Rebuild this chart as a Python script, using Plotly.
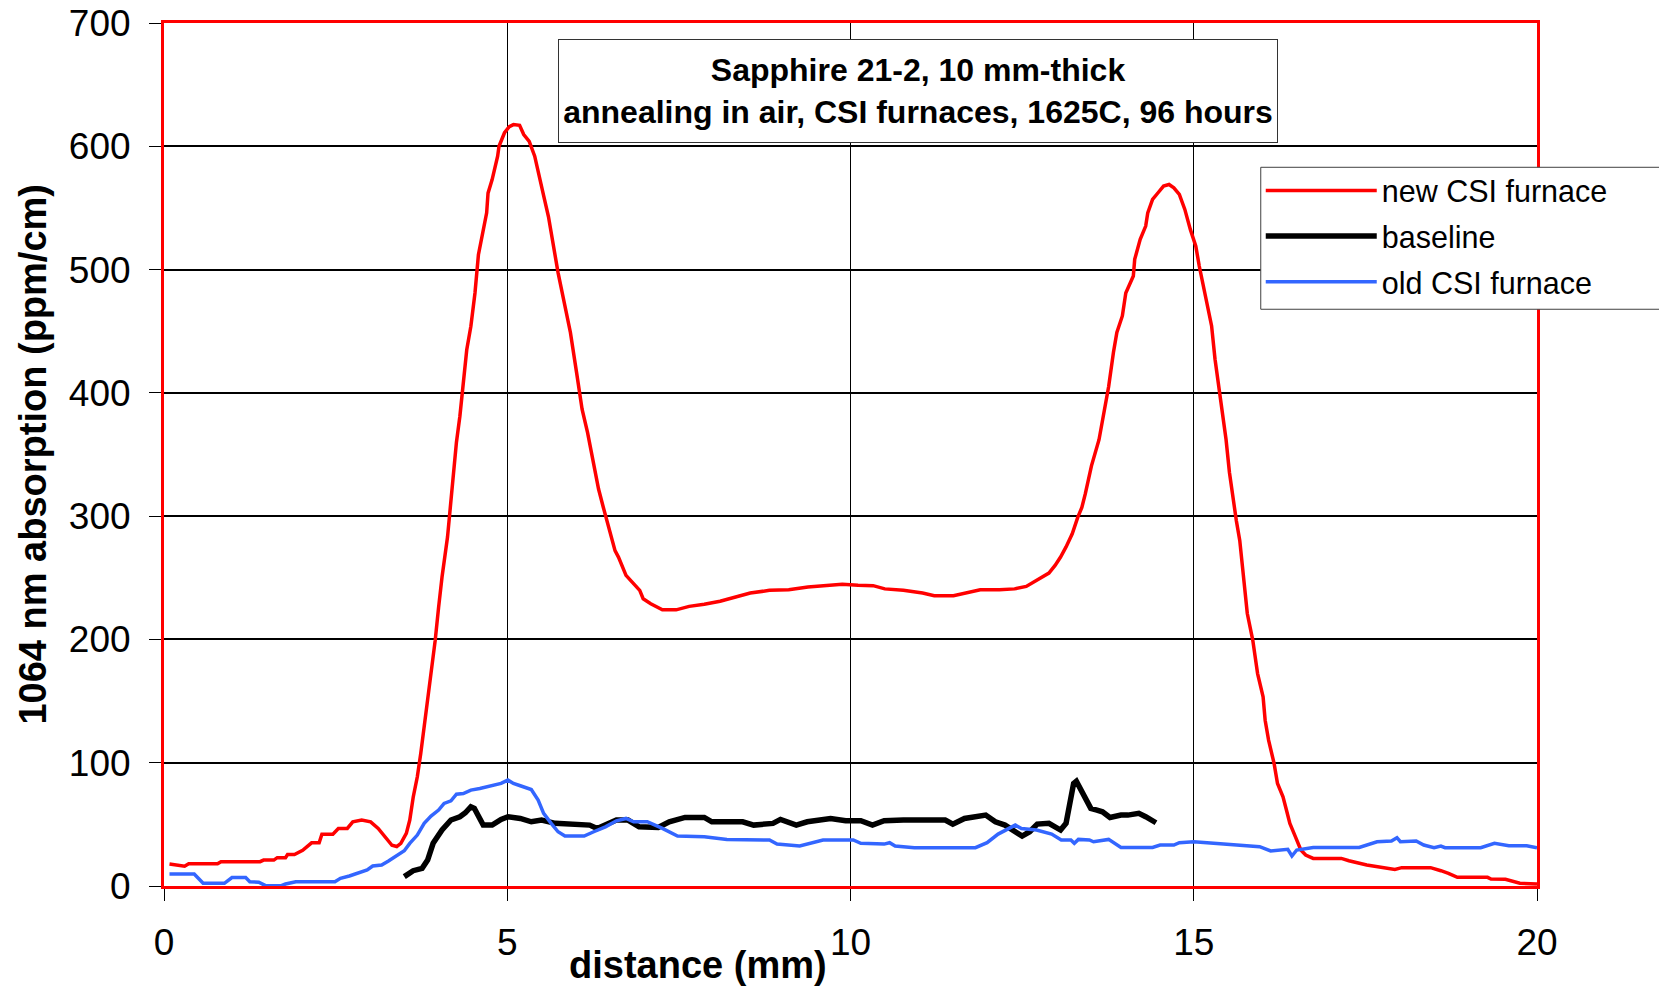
import plotly.graph_objects as go

# ---------------- data ----------------
new_x = [0.08, 0.3, 0.36, 0.78, 0.83, 1.4, 1.45, 1.6, 1.65, 1.77, 1.8, 1.9, 2.02, 2.15, 2.26, 2.3, 2.46,
         2.54, 2.67, 2.75, 2.88, 3.01, 3.12, 3.22, 3.32, 3.39, 3.45, 3.53, 3.58, 3.63, 3.69, 3.74, 3.79,
         3.84, 3.89, 3.95, 4.0, 4.05, 4.13, 4.18, 4.26, 4.31, 4.36, 4.41, 4.47, 4.53, 4.58, 4.65, 4.70,
         4.72, 4.78, 4.86, 4.88, 4.96, 5.03, 5.09, 5.18, 5.24, 5.32, 5.40, 5.47, 5.53, 5.60, 5.66, 5.74,
         5.84, 5.92, 6.01, 6.09, 6.17, 6.26, 6.33, 6.40, 6.45, 6.51, 6.57, 6.62, 6.68, 6.73, 6.82, 6.93,
         6.98, 7.09, 7.26, 7.46, 7.65, 7.87, 8.10, 8.32, 8.54, 8.82, 9.10, 9.38, 9.66, 9.88, 10.11, 10.33,
         10.50, 10.77, 11.05, 11.22, 11.50, 11.72, 11.89, 12.17, 12.39, 12.56, 12.67, 12.78, 12.89, 12.98,
         13.06, 13.14, 13.23, 13.31, 13.37, 13.42, 13.51, 13.62, 13.70, 13.76, 13.83, 13.88, 13.96, 14.01,
         14.12, 14.14, 14.22, 14.30, 14.33, 14.40, 14.48, 14.56, 14.64, 14.71, 14.79, 14.87, 14.95, 15.03,
         15.08, 15.13, 15.18, 15.26, 15.31, 15.36, 15.41, 15.47, 15.52, 15.57, 15.62, 15.67, 15.70, 15.75,
         15.78, 15.86, 15.93, 16.01, 16.04, 16.09, 16.17, 16.22, 16.30, 16.35, 16.40, 16.48, 16.56, 16.63,
         16.74, 17.15, 17.26, 17.52, 17.72, 17.93, 18.03, 18.45, 18.60, 18.71, 18.84, 19.28, 19.33, 19.54,
         19.75, 20.0]
new_y = [17.8, 16, 18, 18, 19.7, 19.7, 21, 21, 23, 23, 25.6, 25.6, 29, 35, 35, 42, 42,
         46.7, 46.7, 52, 53.5, 52, 46.7, 39.4, 33, 32, 34.6, 42.7, 53.5, 72, 88.6, 107.5, 129,
         150.7, 169.6, 199, 226, 250.6, 283, 313, 360, 381, 405, 435, 454, 481, 512, 530, 546,
         562, 573, 592, 600, 611, 616, 617.6, 617, 609.5, 604, 592, 576, 560, 543, 522, 497.5,
         470.5, 449, 416.4, 386.7, 367.8, 340.8, 322, 307, 296.5, 285.7, 272, 266.8, 258.7, 252, 246.5, 239.8,
         233, 229, 224, 224, 226.8, 228.5, 231, 234.4, 237.6, 239.8, 240.3, 242.5, 243.6, 244.7, 243.9, 243.6,
         241, 239.8, 237.6, 235.5, 235.5, 238.5, 240.3, 240.3, 241, 243, 246.5, 250.6, 253.8, 260,
         266.8, 275, 285.7, 299, 307, 318, 340.8, 362, 386.7, 405, 432.7, 449, 462.4, 481,
         494.8, 508.3, 524.5, 535.3, 546, 556.9, 562.3, 567.7, 569, 566.3, 561, 548.8, 532.6, 519,
         502.9, 489.4, 475.9, 454.3, 427.3, 405.6, 389.4, 362.4, 335.4, 313.8, 296.5, 280.3, 264, 234.4,
         221, 199.3, 172.3, 153.4, 134.5, 118.3, 99.4, 83.2, 72.4, 61.6, 50.8, 40, 29.2, 25.1,
         22.4, 22.4, 20.5, 17, 15.1, 13.5, 14.9, 14.9, 12.4, 10.3, 7, 7, 5.7, 5.4,
         2.2, 1.6]

base_x = [3.50, 3.63, 3.76, 3.84, 3.92, 4.05, 4.18, 4.31, 4.39, 4.47, 4.52, 4.60, 4.65, 4.78, 4.91,
          5.01, 5.19, 5.35, 5.50, 5.70, 6.20, 6.31, 6.59, 6.76, 6.92, 7.20, 7.36, 7.59, 7.87, 7.98,
          8.43, 8.59, 8.87, 8.98, 9.21, 9.37, 9.71, 9.93, 10.15, 10.32, 10.49, 10.77, 11.27, 11.38,
          11.49, 11.66, 11.97, 12.11, 12.25, 12.39, 12.50, 12.61, 12.72, 12.89, 13.06, 13.14, 13.20,
          13.25, 13.29, 13.36, 13.42, 13.50, 13.59, 13.67, 13.78, 13.94, 14.04, 14.20, 14.30, 14.45]
base_y = [7.6, 12.4, 14.3, 21, 34.6, 45.4, 53.5, 56.2, 59.4, 64.3, 63, 53.5, 49.4, 49.4, 54,
          56.2, 54.8, 52.1, 53.5, 50.8, 49.4, 46.7, 53.5, 53.5, 48, 47.5, 52.1, 55.6, 55.6, 52.1,
          52.1, 49.4, 50.8, 54, 49.4, 52.1, 54.8, 52.9, 52.9, 49.4, 52.9, 53.5, 52.9, 53.5,
          50.2, 54.8, 57.5, 52.1, 49.4, 44, 40.5, 44, 50.2, 50.8, 45.4, 50.8, 69.7,
          83.2, 85, 77.8, 71, 63, 61.6, 60.2, 55.6, 57.5, 57.5, 58.9, 56.2, 51.3]

old_x = [0.08, 0.44, 0.57, 0.88, 0.99, 1.19, 1.25, 1.38, 1.48, 1.71, 1.77, 1.92, 2.49, 2.57, 2.70,
         2.86, 2.96, 3.04, 3.17, 3.27, 3.40, 3.50, 3.58, 3.69, 3.79, 3.89, 4.0, 4.08, 4.18, 4.26, 4.36,
         4.47, 4.60, 4.78, 4.91, 5.01, 5.09, 5.19, 5.35, 5.45, 5.53, 5.64, 5.74, 5.84, 6.12, 6.26,
         6.43, 6.59, 6.73, 6.84, 7.04, 7.26, 7.48, 7.87, 8.20, 8.82, 8.93, 9.26, 9.43, 9.60, 10.04,
         10.15, 10.49, 10.57, 10.65, 10.93, 11.82, 11.99, 12.15, 12.32, 12.40, 12.49, 12.71, 12.93,
         13.07, 13.21, 13.26, 13.32, 13.48, 13.54, 13.76, 13.94, 14.40, 14.51, 14.71, 14.79, 15.0,
         15.29, 15.70, 15.96, 16.12, 16.32, 16.37, 16.43, 16.50, 16.74, 17.41, 17.67, 17.88, 17.96,
         18.01, 18.24, 18.35, 18.50, 18.60, 18.66, 19.18, 19.38, 19.59, 19.85, 20.0]
old_y = [9.7, 9.7, 2.2, 2.2, 6.8, 6.8, 3.5, 3, 0.3, 0.3, 1.6, 3.5, 3.5, 6.2, 8.1,
         10.8, 13, 16.2, 17, 20.3, 25.1, 28.6, 34.6, 41.3, 50.8, 56.7, 61.6, 67, 69.1, 74.5, 75,
         77.8, 79.1, 81.8, 83.2, 85.9, 83.2, 81.3, 78.3, 69.7, 58.9, 50.8, 44, 40.5, 40.5, 44,
         48, 52.9, 54.8, 52.1, 52.1, 46.7, 40.5, 40, 37.8, 37.3, 34, 32.4, 35.1, 37.3, 37.3,
         34.6, 34, 35.1, 32.4, 31.1, 31.1, 35.1, 42.1, 46.7, 49.4, 46.7, 45.4, 42.1,
         37.3, 37.3, 34.6, 37.8, 37.3, 35.9, 37.8, 31.3, 31.3, 33.2, 33.2, 35.1, 35.9,
         34.6, 32.7, 31.9, 28.4, 29.2, 29.7, 24.3, 29.2, 31.3, 31.3, 35.9, 36.5, 39.2,
         35.9, 36.5, 33.2, 31.1, 32.4, 31.1, 31.1, 34.6, 32.7, 32.7, 31.1]

series_names = ["new CSI furnace", "baseline", "old CSI furnace"]
x_ticks = [0, 5, 10, 15, 20]
y_ticks = [0, 100, 200, 300, 400, 500, 600, 700]

title_text = "Sapphire 21-2, 10 mm-thick<br>annealing in air, CSI furnaces, 1625C, 96 hours"
x_title = "distance (mm)"
y_title = "1064 nm absorption (ppm/cm)"

FONT = "Liberation Sans, Arial, sans-serif"

fig = go.Figure()
fig.add_trace(go.Scatter(x=new_x, y=new_y, mode="lines", name=series_names[0],
                         line=dict(color="#FF0000", width=3.5), legendgroup="g1"))
fig.add_trace(go.Scatter(x=base_x, y=base_y, mode="lines", name=series_names[1],
                         line=dict(color="#000000", width=5.5), legendgroup="g2"))
fig.add_trace(go.Scatter(x=old_x, y=old_y, mode="lines", name=series_names[2],
                         line=dict(color="#3366FF", width=3.5), legendgroup="g3"))

fig.update_layout(
    width=1659, height=986,
    margin=dict(l=164, r=122, t=23, b=100, autoexpand=False),
    paper_bgcolor="white", plot_bgcolor="white",
    font=dict(family=FONT, color="black"),
    showlegend=True,
    legend=dict(x=0.7988, y=0.8365, xanchor="left", yanchor="top",
                bgcolor="rgba(0,0,0,0)", borderwidth=0,
                font=dict(size=30.5, family=FONT, color="black"),
                tracegroupgap=3, itemwidth=111, traceorder="grouped"),
    # frame of the legend box (runs off the right edge, as in the original)
    shapes=[dict(type="rect", xref="paper", yref="paper", layer="above",
                 x0=0.7988, x1=1.25, y0=0.6683, y1=0.8328,
                 line=dict(color="#404040", width=1), fillcolor="white")],
    xaxis=dict(range=[0, 20], tickvals=x_ticks, ticktext=[str(v) for v in x_ticks],
               showgrid=True, gridcolor="black", gridwidth=1, zeroline=False,
               showline=True, linecolor="#FF0000", linewidth=3, mirror=True,
               ticks="outside", ticklen=12, tickwidth=1.3, tickcolor="black",
               ticklabelstandoff=10,
               tickfont=dict(size=37, family=FONT, color="black")),
    yaxis=dict(range=[0, 700], tickvals=y_ticks, ticktext=[str(v) for v in y_ticks],
               showgrid=True, gridcolor="black", gridwidth=2, zeroline=False,
               showline=True, linecolor="#FF0000", linewidth=3, mirror=True,
               ticks="outside", ticklen=12, tickwidth=1.3, tickcolor="black",
               ticklabelstandoff=11,
               tickfont=dict(size=37, family=FONT, color="black")),
    annotations=[
        dict(text="<b>" + title_text + "</b>", xref="paper", yref="paper",
             x=0.549, y=0.9212, xanchor="center", yanchor="middle", showarrow=False,
             font=dict(size=32, family=FONT, color="black"), align="center",
             bordercolor="#333333", borderwidth=1, borderpad=2, bgcolor="white",
             width=714, height=98),
        dict(text="<b>" + x_title + "</b>", xref="paper", yref="paper",
             x=0.389, y=-0.0915, xanchor="center", yanchor="middle", showarrow=False,
             font=dict(size=38, family=FONT, color="black")),
        dict(text="<b>" + y_title + "</b>", xref="paper", yref="paper",
             x=-0.0961, y=0.5, xanchor="center", yanchor="middle", showarrow=False,
             textangle=-90, font=dict(size=38, family=FONT, color="black")),
    ],
)

fig.write_html("out.html")
